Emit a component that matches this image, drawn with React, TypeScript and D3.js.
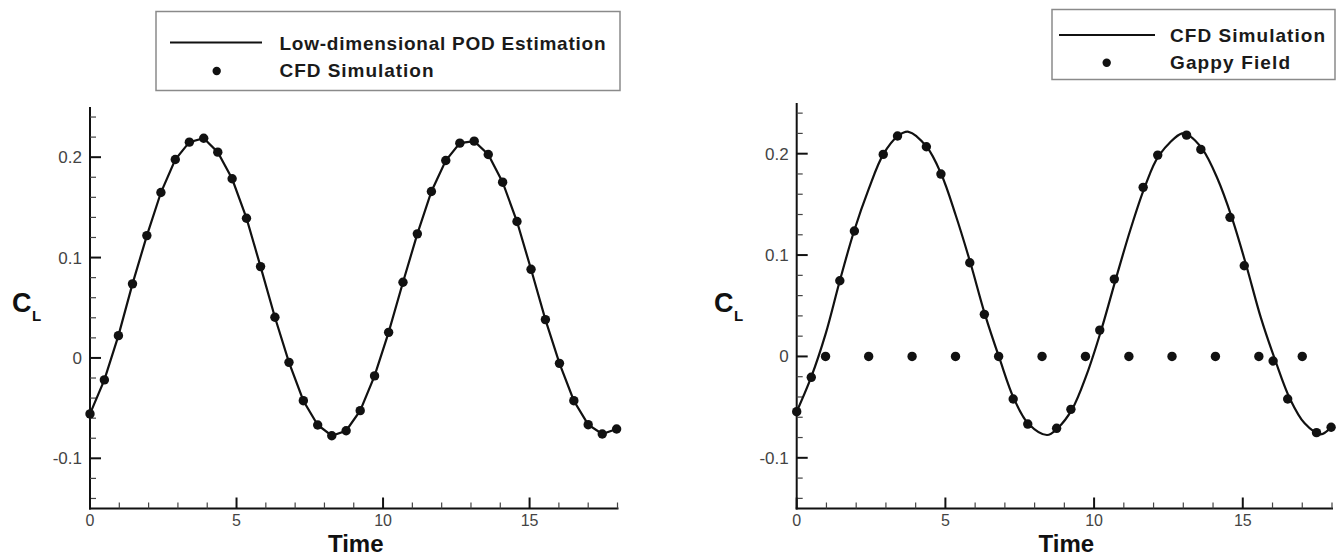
import React from "react";
import * as d3 from "d3";

// ---- data ----
const sampleTime = [0, 0.49, 0.97, 1.45, 1.94, 2.42, 2.91, 3.39, 3.88, 4.36, 4.85, 5.34, 5.82, 6.31, 6.79, 7.28, 7.77, 8.25, 8.74, 9.22, 9.71, 10.19, 10.68, 11.17, 11.65, 12.14, 12.62, 13.11, 13.59, 14.08, 14.57, 15.05, 15.54, 16.02, 16.51, 17.0, 17.48, 17.97];
const cfdValue = [-0.0558, -0.0219, 0.0222, 0.0738, 0.1219, 0.1648, 0.1977, 0.215, 0.2189, 0.205, 0.1785, 0.1392, 0.091, 0.0405, -0.0044, -0.0426, -0.0668, -0.0775, -0.0725, -0.0525, -0.0179, 0.0255, 0.0754, 0.1236, 0.1658, 0.1967, 0.214, 0.216, 0.2027, 0.1751, 0.1359, 0.0883, 0.0382, -0.0054, -0.0426, -0.0665, -0.0758, -0.0708];
const podValue = [-0.0558, -0.0219, 0.0222, 0.0738, 0.1219, 0.1648, 0.1977, 0.215, 0.2189, 0.205, 0.1785, 0.1392, 0.091, 0.0405, -0.0044, -0.0426, -0.0668, -0.0775, -0.0725, -0.0525, -0.0179, 0.0255, 0.0754, 0.1236, 0.1658, 0.1967, 0.214, 0.216, 0.2027, 0.1751, 0.1359, 0.0883, 0.0382, -0.0054, -0.0426, -0.0665, -0.0758, -0.0708];
const gappyValue = [-0.0545, -0.0206, 0, 0.0747, 0.1237, 0, 0.1993, 0.2174, 0, 0.2068, 0.1799, 0, 0.0924, 0.0415, 0, -0.042, -0.0667, 0, -0.0709, -0.0522, 0, 0.026, 0.0763, 0, 0.1668, 0.1986, 0, 0.2183, 0.2042, 0, 0.1372, 0.0895, 0, -0.0045, -0.042, 0, -0.0752, -0.0699];
const cfdCurveTime = [0, 0.48, 0.97, 1.45, 1.93, 2.42, 2.91, 3.4, 3.76, 4.37, 4.86, 5.35, 5.84, 6.33, 6.82, 7.31, 7.8, 8.42, 8.77, 9.26, 9.75, 10.24, 10.73, 11.21, 11.7, 12.19, 12.96, 13.17, 13.65, 14.14, 14.63, 15.12, 15.61, 16.1, 16.59, 17.08, 17.62, 17.97];
const cfdCurveValue = [-0.0545, -0.021, 0.022, 0.0747, 0.1237, 0.165, 0.1993, 0.2174, 0.2216, 0.2068, 0.1799, 0.139, 0.0924, 0.0415, -0.002, -0.042, -0.0667, -0.0775, -0.0709, -0.0522, -0.018, 0.026, 0.0763, 0.124, 0.1668, 0.1986, 0.22, 0.2183, 0.2042, 0.176, 0.1372, 0.0895, 0.038, -0.0045, -0.042, -0.066, -0.0768, -0.0699];

const xMajor = [0, 5, 10, 15];
const yMajor = [-0.1, 0, 0.1, 0.2];
const yLabels = ["-0.1", "0", "0.1", "0.2"];
const xDomain: [number, number] = [0, 18];
const yDomain: [number, number] = [-0.15, 0.25];

const FONT = "'Liberation Sans', Arial, Helvetica, sans-serif";

type PanelProps = {
  x0: number; x1: number; yTop: number; yBottom: number;
  lineT: number[]; lineV: number[]; dotT: number[]; dotV: number[];
  smooth: boolean; clX: number;
  legend: { x: number; y: number; w: number; h: number; lineX0: number; lineX1: number; lineY: number; dotX: number; dotY: number; textX: number; base1: number; base2: number; t1: string; t2: string; w1: number; w2: number };
};

function Panel(p: PanelProps) {
  const xs = d3.scaleLinear().domain(xDomain).range([p.x0, p.x1]);
  const ys = d3.scaleLinear().domain(yDomain).range([p.yBottom, p.yTop]);
  const line = d3.line<number>()
    .x((_, i) => xs(p.lineT[i]))
    .y((v) => ys(v))
    .curve(p.smooth ? d3.curveCatmullRom.alpha(0.5) : d3.curveLinear);
  const xMinor = d3.range(1, 19).filter((v) => v % 5 !== 0);
  const yMinor = d3.range(-14, 25, 2).map((v) => v / 100).filter((v) => !yMajor.some((m) => Math.abs(m - v) < 1e-6));
  const L = p.legend;
  return (
    <g>
      {/* legend */}
      <rect x={L.x} y={L.y} width={L.w} height={L.h} fill="white" stroke="#8a8a8a" strokeWidth={1.5} />
      <line x1={L.lineX0} x2={L.lineX1} y1={L.lineY} y2={L.lineY} stroke="#111" strokeWidth={2.2} />
      <circle cx={L.dotX} cy={L.dotY} r={4.2} fill="#111" />
      <text x={L.textX} y={L.base1} fontFamily={FONT} fontWeight="bold" fontSize={19} fill="#1a1a1a" textLength={L.w1} lengthAdjust="spacing">{L.t1}</text>
      <text x={L.textX} y={L.base2} fontFamily={FONT} fontWeight="bold" fontSize={19} fill="#1a1a1a" textLength={L.w2} lengthAdjust="spacing">{L.t2}</text>

      {/* axes */}
      <line x1={p.x0} x2={p.x0} y1={p.yTop} y2={p.yBottom + 1} stroke="#111" strokeWidth={2} />
      <line x1={p.x0 - 1} x2={p.x1 + 1} y1={p.yBottom} y2={p.yBottom} stroke="#111" strokeWidth={2} />
      {yMajor.map((v, i) => (
        <g key={"ym" + i}>
          <line x1={p.x0} x2={p.x0 + 11} y1={ys(v)} y2={ys(v)} stroke="#111" strokeWidth={2} />
          <text x={p.x0 - 8} y={ys(v) + 6} textAnchor="end" fontFamily={FONT} fontSize={17} fill="#444">{yLabels[i]}</text>
        </g>
      ))}
      {yMinor.map((v, i) => (
        <line key={"yn" + i} x1={p.x0} x2={p.x0 + 6} y1={ys(v)} y2={ys(v)} stroke="#444" strokeWidth={1.2} />
      ))}
      {xMajor.map((v, i) => (
        <g key={"xm" + i}>
          <line x1={xs(v)} x2={xs(v)} y1={p.yBottom} y2={p.yBottom - 11} stroke="#111" strokeWidth={2} />
          <text x={xs(v)} y={p.yBottom + 17.5} textAnchor="middle" fontFamily={FONT} fontSize={16} fill="#444">{v}</text>
        </g>
      ))}
      {xMinor.map((v, i) => (
        <line key={"xn" + i} x1={xs(v)} x2={xs(v)} y1={p.yBottom} y2={p.yBottom - 6} stroke="#444" strokeWidth={1.2} />
      ))}
      <text x={(p.x0 + p.x1) / 2 + 2} y={551.5} textAnchor="middle" fontFamily={FONT} fontWeight="bold" fontSize={24} fill="#111">Time</text>
      <text x={p.clX} y={312} fontFamily={FONT} fontWeight="bold" fontSize={27} fill="#111">C</text>
      <text x={p.clX + 20} y={321} fontFamily={FONT} fontWeight="bold" fontSize={15} fill="#111">L</text>

      {/* data */}
      <path d={line(p.lineV) || ""} fill="none" stroke="#111" strokeWidth={2.2} />
      {p.dotV.map((v, i) => (
        <circle key={"d" + i} cx={xs(p.dotT[i])} cy={ys(v)} r={4.7} fill="#111" />
      ))}
    </g>
  );
}

export default function App() {
  return (
    <svg width={1342} height={555} style={{ position: "absolute", left: 0, top: 0, background: "white" }}>
      <rect x={0} y={0} width={1342} height={555} fill="white" />
      <Panel
        x0={90} x1={617.5} yTop={107} yBottom={508.5}
        lineT={sampleTime} lineV={podValue} dotT={sampleTime} dotV={cfdValue}
        smooth={false} clX={12}
        legend={{ x: 156, y: 11.5, w: 464, h: 79, lineX0: 170, lineX1: 262, lineY: 42.5, dotX: 216.7, dotY: 71, textX: 279.5, base1: 49.5, base2: 76.5, t1: "Low-dimensional POD Estimation", t2: "CFD Simulation", w1: 326, w2: 154 }}
      />
      <Panel
        x0={796.7} x1={1332} yTop={103} yBottom={508.5}
        lineT={cfdCurveTime} lineV={cfdCurveValue} dotT={sampleTime} dotV={gappyValue}
        smooth={true} clX={714}
        legend={{ x: 1052, y: 9.5, w: 283, h: 70, lineX0: 1059, lineX1: 1155, lineY: 35, dotX: 1106.7, dotY: 62.7, textX: 1170, base1: 42, base2: 68.5, t1: "CFD Simulation", t2: "Gappy Field", w1: 155, w2: 120 }}
      />
    </svg>
  );
}
